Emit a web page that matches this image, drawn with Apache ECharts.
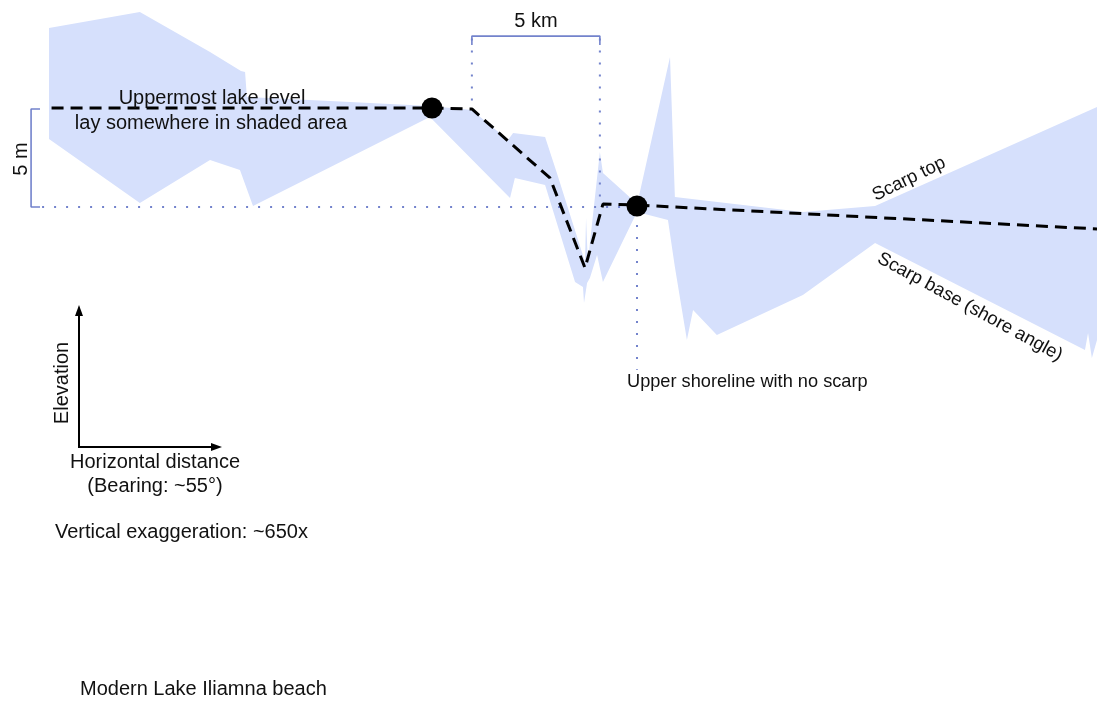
<!DOCTYPE html>
<html><head><meta charset="utf-8">
<script src="https://cdn.jsdelivr.net/npm/echarts@6/dist/echarts.min.js"></script>
<style>html,body{margin:0;padding:0;background:#fff}#c{width:1097px;height:702px}</style>
</head><body><div id="c"></div>
<script>
// Horizontal distance (km) along the profile, elevation (m) relative to upper shoreline
const shadeX = [0, 3.55, 6.29, 7.50, 7.66, 7.73, 10.98, 14.88, 16.52, 17.93, 18.13, 19.38, 19.84, 20.94, 20.98, 21.05, 21.52, 21.64, 22.81, 22.97, 24.26, 24.45, 29.45, 32.27, 40.94, 40.94, 40.74, 40.59, 40.47, 32.27, 29.45, 26.09, 25.16, 24.92, 24.45, 24.18, 22.97, 21.64, 21.41, 21.13, 21.02, 20.90, 20.86, 20.55, 19.38, 18.20, 18.01, 14.88, 7.97, 7.46, 6.29, 3.55, 0];
const shadeY = [9.13, 9.95, 7.91, 6.94, 6.89, 5.61, 5.41, 5.15, 4.95, 3.42, 3.78, 3.57, 1.73, -2.81, -0.56, -2.81, 2.81, 1.73, 0.36, 0.10, 7.65, 0.51, -0.26, 0.05, 5.10, -6.79, -7.70, -6.43, -7.30, -1.84, -4.49, -6.53, -5.26, -6.79, -3.06, -0.66, -0.26, -3.83, -2.45, -3.62, -3.88, -4.90, -4.08, -3.83, 1.12, 1.48, 0.46, 4.59, 0.05, 1.89, 2.40, 0.20, 3.47];
const profileX = [0.1, 14.96, 16.52, 19.57, 20.94, 21.64, 22.97, 40.94];
const profileY = [5.05, 5.05, 5.0, 1.48, -3.11, 0.15, 0.10, -1.12];
const dotX = [14.96, 22.97];
const dotY = [5.05, 0.05];
// dotted reference lines
const refBaseX = [-0.27, 22.97], refBaseY = [0, 0];
const refLeftX = [16.52, 16.52], refLeftY = [8.6, 5.0];
const refRightX = [21.52, 21.52], refRightY = [8.6, 0.1];
const refShoreX = [22.97, 22.97], refShoreY = [-0.3, -8.3];
// scale brackets (5 km, 5 m)
const kmBarX = [16.52, 16.52, 21.52, 21.52], kmBarY = [8.27, 8.72, 8.72, 8.27];
const mBarX = [-0.35, -0.70, -0.70, -0.35], mBarY = [5.0, 5.0, 0, 0];

const zip = (a, b) => a.map((v, i) => [v, b[i]]);
const blue = '#7383cc';
const font = '"Liberation Sans", Arial, sans-serif';
const chart = echarts.init(document.getElementById('c'));
const refLine = (xs, ys) => ({
  type: 'line', data: zip(xs, ys), symbol: 'none', silent: true, z: 2,
  lineStyle: { color: blue, width: 2, type: [2, 10] }
});
const bar = (xs, ys) => ({
  type: 'line', data: zip(xs, ys), symbol: 'none', silent: true, z: 2,
  lineStyle: { color: blue, width: 1.6 }
});
const txt = (x, y, s, opt) => ({
  type: 'text', x: x, y: y, z: 100,
  style: Object.assign({ text: s, font: '20px ' + font, fill: '#111', textAlign: 'center', textVerticalAlign: 'middle' }, opt || {})
});
chart.setOption({
  animation: false,
  grid: { left: 0, right: 0, top: 0, bottom: 0 },
  xAxis: { type: 'value', min: -1.914, max: 40.94, show: false },
  yAxis: { type: 'value', min: -25.255, max: 10.561, show: false },
  series: [
    {
      type: 'custom', z: 1, silent: true, data: [0],
      renderItem: (params, api) => ({
        type: 'polygon',
        shape: { points: shadeX.map((x, i) => api.coord([x, shadeY[i]])) },
        style: { fill: '#d6e0fc' }
      })
    },
    refLine(refBaseX, refBaseY),
    refLine(refLeftX, refLeftY),
    refLine(refRightX, refRightY),
    refLine(refShoreX, refShoreY),
    bar(kmBarX, kmBarY),
    bar(mBarX, mBarY),
    {
      type: 'line', data: zip(profileX, profileY), symbol: 'none', z: 5,
      lineStyle: { color: '#000', width: 3, type: [12, 7] }
    },
    {
      type: 'scatter', data: zip(dotX, dotY), symbolSize: 21, z: 6,
      itemStyle: { color: '#000', opacity: 1 }
    }
  ],
  graphic: [
    txt(212, 98, 'Uppermost lake level'),
    txt(211, 123, 'lay somewhere in shaded area'),
    txt(536, 21, '5 km'),
    Object.assign(txt(21, 159, '5 m'), { rotation: Math.PI / 2 }),
    Object.assign(txt(909, 179, 'Scarp top', { font: '18.5px ' + font }), { rotation: 26 * Math.PI / 180 }),
    Object.assign(txt(970, 307, 'Scarp base (shore angle)', { font: '18.5px ' + font }), { rotation: -28.6 * Math.PI / 180 }),
    txt(627, 382, 'Upper shoreline with no scarp', { font: '18.2px ' + font, textAlign: 'left' }),
    Object.assign(txt(62, 383, 'Elevation'), { rotation: Math.PI / 2 }),
    txt(155, 462, 'Horizontal distance'),
    txt(155, 486, '(Bearing: ~55°)'),
    txt(55, 532, 'Vertical exaggeration: ~650x', { textAlign: 'left' }),
    txt(80, 689, 'Modern Lake Iliamna beach', { textAlign: 'left' }),
    { type: 'polyline', z: 100, shape: { points: [[79, 313], [79, 447], [213, 447]] }, style: { stroke: '#000', lineWidth: 2, fill: null } },
    { type: 'polygon', z: 100, shape: { points: [[79, 305], [75, 316], [83, 316]] }, style: { fill: '#000' } },
    { type: 'polygon', z: 100, shape: { points: [[222, 447], [211, 443], [211, 451]] }, style: { fill: '#000' } }
  ]
});
</script>
</body></html>
